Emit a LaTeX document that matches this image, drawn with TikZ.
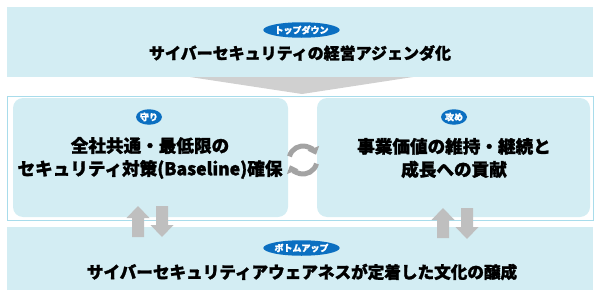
\documentclass[tikz,border=0pt]{standalone}
\usepackage{fontspec}
\setmainfont{Noto Sans CJK JP}[BoldFeatures={FakeBold=1.5}]
\usetikzlibrary{shapes.geometric,arrows.meta}
\definecolor{bandblue}{HTML}{D3EDF3}
\definecolor{framecol}{HTML}{A8DCEB}
\definecolor{pillblue}{HTML}{0B6FC1}
\definecolor{arrgray}{HTML}{BFBFBF}
\definecolor{trigray}{HTML}{D0D0D0}
\definecolor{cyclegray}{HTML}{A3A3A3}
\tikzset{
 band/.style={fill=bandblue, minimum width=586pt, inner sep=0pt, draw=none},
 pill/.style={ellipse, fill=pillblue, text=white, font=\bfseries\fontsize{9}{10}\selectfont, inner sep=0pt},
 titletext/.style={font=\bfseries\fontsize{16}{23}\selectfont, align=center, text=black, inner sep=0pt},
 paneltext/.style={font=\bfseries\fontsize{17.6}{23}\selectfont, align=center, text=black, inner sep=0pt},
 panel/.style={fill=bandblue, rounded corners=10pt, minimum width=275pt, minimum height=119pt, inner sep=0pt},
 vud/.style={fill=arrgray},
 cyc/.style={draw=cyclegray, line width=5pt, -{Triangle[width=12pt,length=7pt]}}
}
\newcommand\myuparrow[4]{% name, cx, top, bottom
  \fill[vud] (#2,#3) coordinate (#1) -- ++(11.5,12) -- ++(-5.5,0) -- (#2+6,#4) -- (#2-6,#4) -- (#2-6,#3+12) -- ++(-5.5,0) -- cycle;}
\newcommand\mydownarrow[4]{% name, cx, top, bottom
  \fill[vud] (#2,#4) coordinate (#1) -- ++(11.5,-12) -- ++(-5.5,0) -- (#2+6,#3) -- (#2-6,#3) -- (#2-6,#4-12) -- ++(-5.5,0) -- cycle;}
\begin{document}
\begin{tikzpicture}[x=1pt,y=-1pt]
\useasboundingbox (0,0) rectangle (600,297);
% top band
\node[band, minimum height=70pt] (top) at (300,42) {};
\node[pill, minimum width=72pt, minimum height=15.5pt] (tpill) at (301.5,30) {トップダウン};
\node[titletext] (ttext) at (300,53) {サイバーセキュリティの経営アジェンダ化};
% funnel arrow
\fill[trigray] (190,77) -- (413,77) -- (302,94) -- cycle;
% frame
\node[draw=framecol, line width=1pt, minimum width=586pt, minimum height=124pt, inner sep=0pt] (frame) at (300,158) {};
% panels
\node[panel] (left) at (150.5,157.5) {};
\node[panel, minimum width=273pt] (right) at (453.5,157.5) {};
\node[pill, minimum width=26pt, minimum height=15.5pt] (lpill) at (149,117) {守り};
\node[pill, minimum width=26pt, minimum height=15.5pt] (rpill) at (454,117) {攻め};
\node[paneltext] (ltext) at (150,158) {全社共通・最低限の\\セキュリティ対策(Baseline)確保};
\node[paneltext] (rtext) at (454,158) {事業価値の維持・継続と\\成長への貢献};
% cycle arrows
\coordinate (cc) at (303,160);
\draw[cyc] (cc) ++(195:14) arc (195:338:14);
\draw[cyc] (cc) ++(15:14) arc (15:158:14);
% bottom band
\node[band, minimum height=63pt] (bot) at (300,258.5) {};
\node[pill, minimum width=72pt, minimum height=15.5pt] (bpill) at (301.5,248) {ボトムアップ};
\node[titletext, font=\bfseries\fontsize{16.6}{23}\selectfont] (btext) at (302,272) {サイバーセキュリティアウェアネスが定着した文化の醸成};
% up/down arrows
\myuparrow{lu}{138}{206}{237}
\mydownarrow{ld}{162}{206}{237}
\myuparrow{ru}{443}{208}{238}
\mydownarrow{rd}{467}{208}{239}
\end{tikzpicture}
\end{document}
